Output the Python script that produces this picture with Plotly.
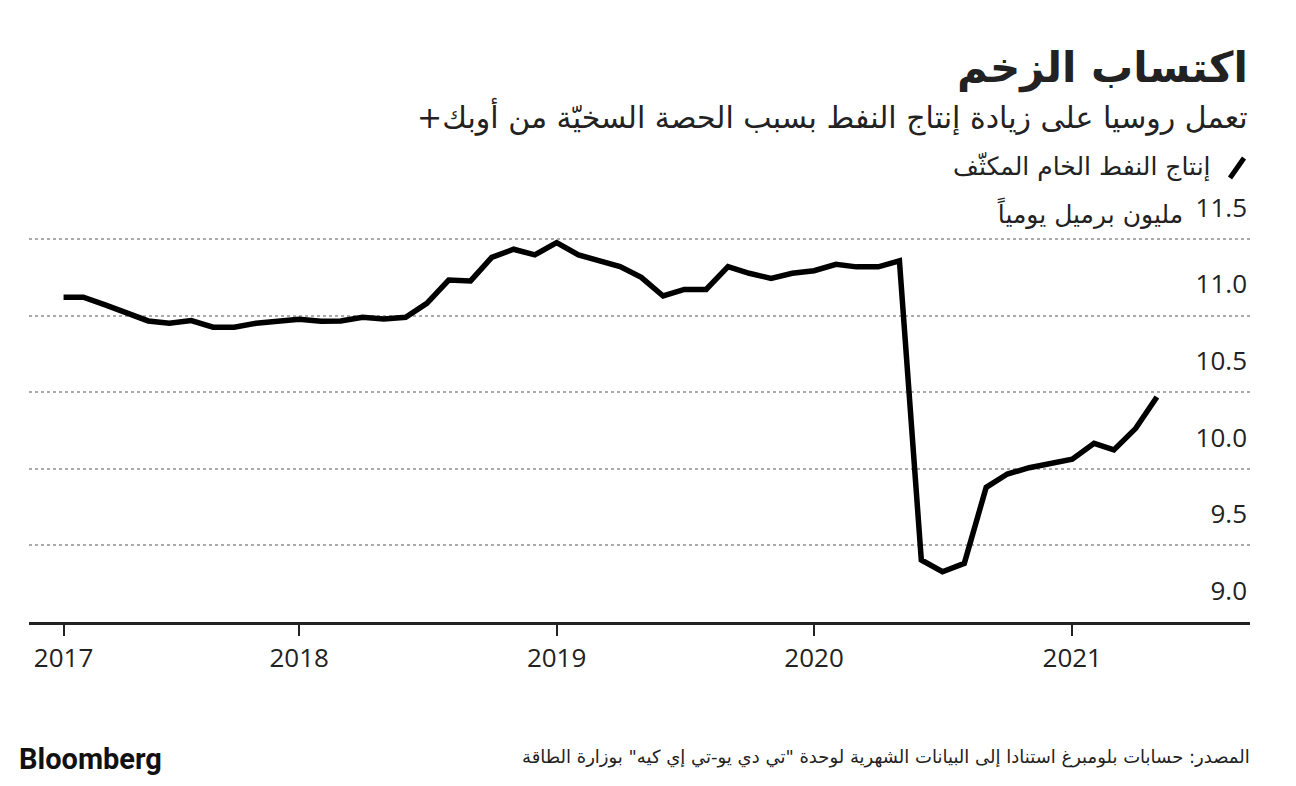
import plotly.graph_objects as go
import pandas as pd

# إنتاج النفط الخام المكثّف (مليون برميل يومياً), شهري فبراير 2017 - مايو 2021
months = pd.date_range("2017-02-01", "2021-05-01", freq="MS")
production = [
    11.12, 11.12, 11.07, 11.015, 10.965, 10.95, 10.967, 10.924, 10.924, 10.95, 10.963,
    10.976, 10.963, 10.965, 10.989, 10.978, 10.989, 11.08, 11.232, 11.226, 11.38, 11.433,
    11.396, 11.476, 11.396, 11.358, 11.32, 11.25, 11.128, 11.171, 11.171, 11.319, 11.276,
    11.243, 11.276, 11.293, 11.335, 11.318, 11.318, 11.358, 9.405, 9.328, 9.383, 9.879,
    9.966, 10.007, 10.036, 10.062, 10.166, 10.123, 10.264, 10.469,
]

year_ticks = ["2017-02-01", "2018-01-01", "2019-01-01", "2020-01-01", "2021-01-01"]
year_labels = ["2017", "2018", "2019", "2020", "2021"]
y_ticks = [9.0, 9.5, 10.0, 10.5, 11.0, 11.5]
y_labels = ["9.0", "9.5", "10.0", "10.5", "11.0", "11.5"]

RLM = "\u200f"
title = "اكتساب الزخم"
subtitle = "تعمل روسيا على زيادة إنتاج النفط بسبب الحصة السخيّة من أوبك+" + RLM
series_name = "إنتاج النفط الخام المكثّف"
unit = "مليون برميل يومياً"
source = 'المصدر: حسابات بلومبرغ استنادا إلى البيانات الشهرية لوحدة "تي دي يو-تي إي كيه" بوزارة الطاقة'

FONT = "Open Sans, DejaVu Sans, sans-serif"
AR_FONT = "DejaVu Sans, sans-serif"

fig = go.Figure()
fig.add_trace(go.Scatter(
    x=months, y=production, mode="lines", name=series_name,
    line=dict(color="#000000", width=5.5), hoverinfo="skip",
))

# الصفحة تضيف هامش 8 بكسل حول الرسم؛ منطقة الرسم من y=180 إلى y=622 على الشاشة
fig.update_layout(
    width=1288, height=778,
    margin=dict(l=21, r=46, t=172, b=164),
    paper_bgcolor="white", plot_bgcolor="white",
    showlegend=False,
    font=dict(family=FONT, color="#222222"),
    xaxis=dict(
        range=["2016-12-14", "2021-09-10"],
        tickvals=year_ticks, ticktext=year_labels,
        ticks="outside", ticklen=11, tickwidth=1.5, tickcolor="#222222",
        showline=True, linecolor="#222222", linewidth=2.5,
        showgrid=False, zeroline=False,
        tickfont=dict(size=26, color="#222222"),
    ),
    yaxis=dict(
        range=[9.0, 11.885], side="right",
        tickvals=y_ticks, ticktext=y_labels,
        ticklabelposition="inside top", ticklabelshift=-13, ticks="",
        showgrid=True, gridcolor="#aaaaaa", griddash="dot", gridwidth=1.5,
        zeroline=False, showline=False,
        tickfont=dict(size=26, color="#222222"),
    ),
)

# مواضع النصوص بالبكسل على الشاشة ثم تحويلها إلى إحداثيات الورقة
PLOT_L, PLOT_R, PLOT_T, PLOT_B = 29, 1250, 180, 622


def px_x(x):
    return (x - PLOT_L) / (PLOT_R - PLOT_L)


def px_y(y):
    return (PLOT_B - y) / (PLOT_B - PLOT_T)


ann = [
    dict(text="<b>" + title + "</b>", x=1250, y=68, size=42),
    dict(text=subtitle, x=1250, y=116, size=30),
    dict(text=series_name, x=1213, y=167, size=25),
    dict(text=unit, x=1185, y=213, size=25),
    dict(text=source, x=1252, y=757, size=18),
]
for a in ann:
    fig.add_annotation(
        text=a["text"], x=px_x(a["x"]), y=px_y(a["y"]), xref="paper", yref="paper",
        xanchor="right", yanchor="middle", showarrow=False,
        font=dict(family=AR_FONT, size=a["size"], color="#222222"),
    )

fig.add_annotation(
    text="<b>Bloomberg</b>", x=px_x(17), y=px_y(759), xref="paper", yref="paper",
    xanchor="left", yanchor="middle", showarrow=False,
    font=dict(family="Roboto, Arial, sans-serif", size=29, color="#111111"),
)

# رمز السلسلة
fig.add_shape(
    type="line", xref="paper", yref="paper",
    x0=px_x(1230), y0=px_y(178), x1=px_x(1244), y1=px_y(158),
    line=dict(color="#000000", width=5),
)

fig.write_html("out.html")
